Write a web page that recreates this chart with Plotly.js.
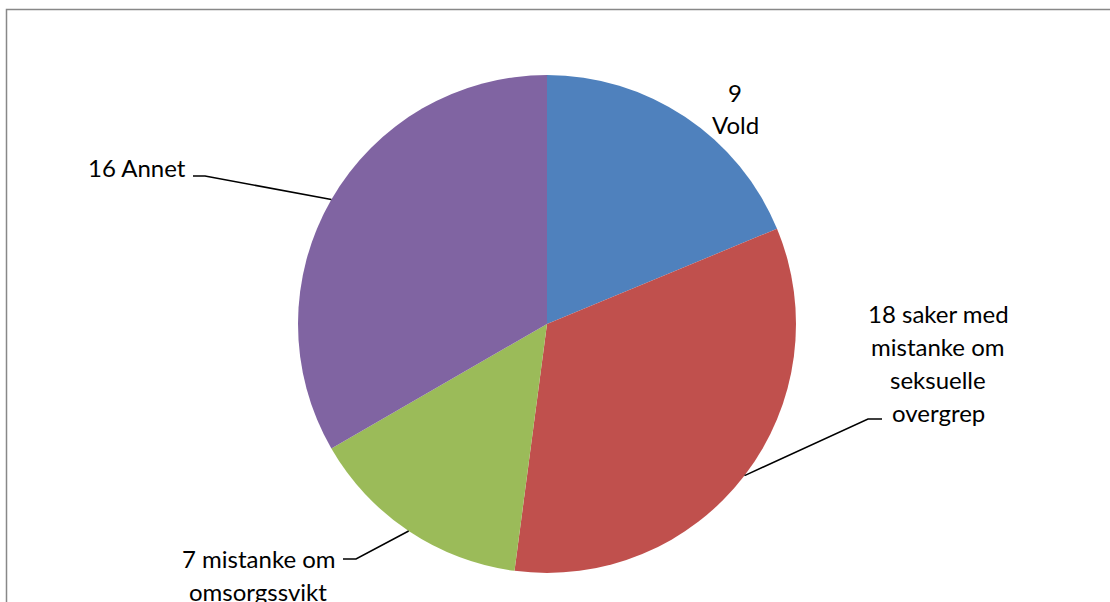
<!DOCTYPE html>
<html>
<head>
<meta charset="utf-8">
<script src="https://cdn.plot.ly/plotly-3.0.1.min.js"></script>
<style>html,body{margin:0;padding:0;background:#fff}#chart{width:1110px;height:602px}</style>
</head>
<body>
<div id="chart"></div>
<script>
// ---- data ----
const categories = ['Vold', 'Seksuelle overgrep', 'Omsorgssvikt', 'Annet'];
const sliceValues = [9, 16, 7, 16];           // slice sizes as drawn
const labelCounts = [9, 18, 7, 16];           // numbers written in the labels
const labelLines = [
  [String(labelCounts[0]), 'Vold'],
  [labelCounts[1] + ' saker med', 'mistanke om', 'seksuelle', 'overgrep'],
  [labelCounts[2] + ' mistanke om', 'omsorgssvikt'],
  [labelCounts[3] + ' Annet']
];
const colors = ['#4F81BD', '#C0504D', '#9BBB59', '#8064A2'];

// ---- layout constants (pixels) ----
const W = 1110, H = 602;
const cx = 547, cy = 324, r = 249;
const fontFam = 'Lato, "Open Sans", Arial, sans-serif';
const fs = 24, lineGap = 33;
const px = x => x / W;
const py = y => 1 - y / H;

// label blocks: anchor x, first-line center y, alignment, leader elbow (or null)
const labelPos = [
  {x: 735, y: 92, xa: 'center', elbow: null},
  {x: 938, y: 313, xa: 'center', elbow: [[868, 419], [882, 419]]},
  {x: 258, y: 558, xa: 'center', elbow: [[356, 559], [343, 559]], firstX: 338, firstXa: 'right'},
  {x: 188, y: 167, xa: 'right', elbow: [[205, 176], [193, 176]]}
];

const total = sliceValues.reduce((a, b) => a + b, 0);
const annotations = [];
const shapes = [];
let cum = 0;
sliceValues.forEach((v, i) => {
  const mid = (cum + v / 2) / total * 2 * Math.PI; // clockwise from 12 o'clock
  cum += v;
  const ex = cx + r * Math.sin(mid), ey = cy - r * Math.cos(mid);
  const lp = labelPos[i];
  labelLines[i].forEach((t, k) => {
    let x = lp.x, xa = lp.xa;
    if (k === 0 && lp.firstX !== undefined) { x = lp.firstX; xa = lp.firstXa; }
    annotations.push({
      text: t, xref: 'paper', yref: 'paper', x: px(x), y: py(lp.y + k * lineGap),
      xanchor: xa, yanchor: 'middle', showarrow: false,
      font: {family: fontFam, size: fs, color: '#000'}
    });
  });
  if (lp.elbow) {
    let d = 'M ' + px(ex) + ' ' + py(ey);
    lp.elbow.forEach(p => { d += ' L ' + px(p[0]) + ' ' + py(p[1]); });
    shapes.push({type: 'path', xref: 'paper', yref: 'paper', path: d,
      line: {color: '#000', width: 1.5}});
  }
});

// chart frame
shapes.push({type: 'rect', xref: 'paper', yref: 'paper',
  x0: px(6.5), x1: px(W + 20), y0: py(H + 20), y1: py(9.5),
  line: {color: '#888888', width: 1.5}, fillcolor: 'rgba(0,0,0,0)', layer: 'below'});

const trace = {
  type: 'pie',
  labels: categories,
  values: sliceValues,
  sort: false,
  direction: 'clockwise',
  rotation: 0,
  textinfo: 'none',
  hoverinfo: 'label+value',
  marker: {colors: colors, line: {width: 0}},
  domain: {x: [px(cx - r), px(cx + r)], y: [py(cy + r), py(cy - r)]},
  showlegend: false
};

const layout = {
  width: W, height: H,
  margin: {l: 0, r: 0, t: 0, b: 0},
  paper_bgcolor: '#ffffff',
  plot_bgcolor: '#ffffff',
  showlegend: false,
  annotations: annotations,
  shapes: shapes
};

Plotly.newPlot('chart', [trace], layout, {displayModeBar: false, staticPlot: true});
</script>
</body>
</html>
